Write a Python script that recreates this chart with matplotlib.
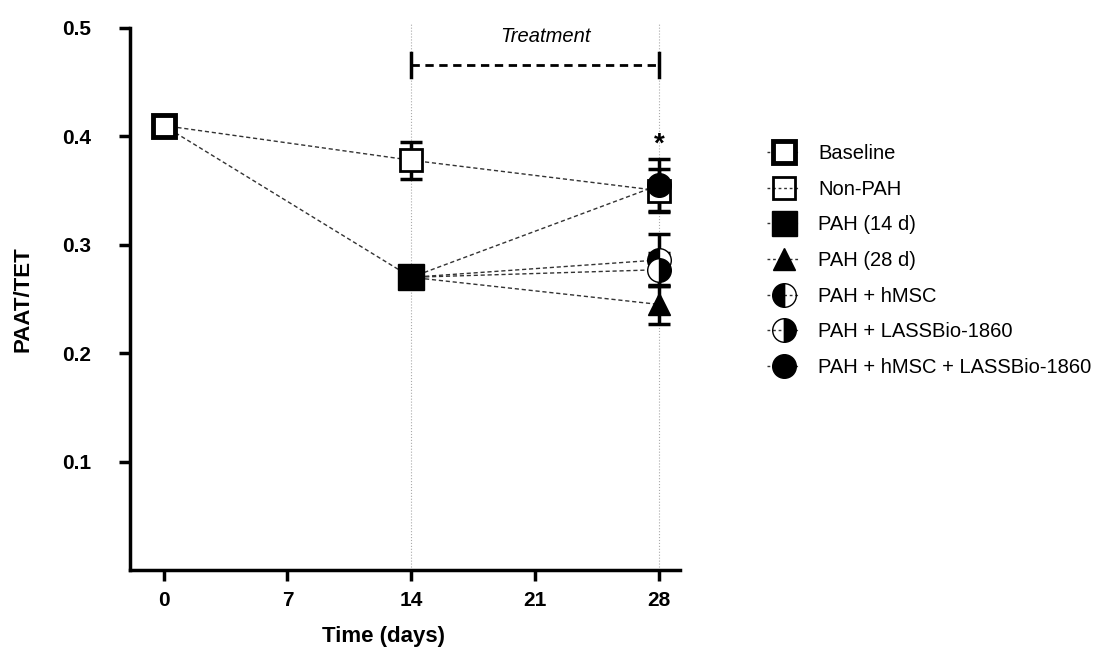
import matplotlib.pyplot as plt
from matplotlib.lines import Line2D

plt.rcParams['font.family'] = ['Liberation Sans', 'DejaVu Sans']

# data (day, mean, sem)
baseline_day, baseline_val = 0, 0.410
nonpah_days = [14, 28]
nonpah_vals = [0.378, 0.350]
nonpah_err = [0.017, 0.020]
pah14_day, pah14_val = 14, 0.270
day28 = 28
pah28_val, pah28_err = 0.245, 0.018
hmsc_val, hmsc_err = 0.286, 0.024
lass_val, lass_err = 0.277, 0.015
combo_val, combo_err = 0.355, 0.024

labels = ['Baseline', 'Non-PAH', 'PAH (14 d)', 'PAH (28 d)', 'PAH + hMSC',
          'PAH + LASSBio-1860', 'PAH + hMSC + LASSBio-1860']
xticks = [0, 7, 14, 21, 28]
yticks = [0.1, 0.2, 0.3, 0.4, 0.5]

fig = plt.figure(figsize=(10.99, 6.48), dpi=100)
ax = fig.add_axes([0.1183, 0.1204, 0.5005, 0.8364])

lc = '#333333'
ls = (0, (3, 2))
# connecting lines
ax.plot([baseline_day, nonpah_days[0]], [baseline_val, nonpah_vals[0]], ls=ls, color=lc, lw=1)
ax.plot([baseline_day, pah14_day], [baseline_val, pah14_val], ls=ls, color=lc, lw=1)
ax.plot(nonpah_days, nonpah_vals, ls=ls, color=lc, lw=1)
for v in [pah28_val, hmsc_val, lass_val, combo_val]:
    ax.plot([pah14_day, day28], [pah14_val, v], ls=ls, color=lc, lw=1)

# vertical dotted guides
for d in [14, 28]:
    ax.plot([d, d], [0, 0.505], ls=':', color='#aaaaaa', lw=0.8, clip_on=False, zorder=0)

eb = dict(fmt='none', ecolor='black', elinewidth=2.5, capsize=8, capthick=2.5, zorder=3)
ax.errorbar(nonpah_days, nonpah_vals, yerr=nonpah_err, **eb)
ax.errorbar([day28] * 4, [pah28_val, hmsc_val, lass_val, combo_val],
            yerr=[pah28_err, hmsc_err, lass_err, combo_err], **eb)

# markers
ax.plot(baseline_day, baseline_val, 's', ms=16, mfc='white', mec='black', mew=3.5, zorder=5)
ax.plot(nonpah_days, nonpah_vals, 's', ms=16, mfc='white', mec='black', mew=2, zorder=4)
ax.plot(pah14_day, pah14_val, 's', ms=19, mfc='black', mec='black', zorder=5)
ax.plot(day28, pah28_val, '^', ms=16, mfc='black', mec='black', zorder=5)
ax.plot(day28, hmsc_val, 'o', ms=17, fillstyle='left', mfc='black', mfcalt='white',
        mec='black', mew=1, zorder=5)
ax.plot(day28, lass_val, 'o', ms=17, fillstyle='right', mfc='black', mfcalt='white',
        mec='black', mew=1, zorder=6)
ax.plot(day28, combo_val, 'o', ms=17, mfc='black', mec='black', zorder=6)

# treatment bracket
ax.plot([14, 28], [0.466, 0.466], ls=(0, (3, 2)), color='black', lw=2, clip_on=False)
for d in [14, 28]:
    ax.plot([d, d], [0.455, 0.477], color='black', lw=2.5, clip_on=False)
ax.text(21.6, 0.492, 'Treatment', style='italic', fontsize=14.5, ha='center', va='center')
ax.text(28, 0.392, '*', fontsize=20, fontweight='bold', ha='center', va='center')

ax.set_xlim(-1.9, 29.2)
ax.set_ylim(0, 0.5)
ax.set_xticks(xticks)
ax.set_yticks(yticks)
ax.set_yticklabels([f'{t:.1f}' for t in yticks])
for s in ['top', 'right']:
    ax.spines[s].set_visible(False)
for s in ['left', 'bottom']:
    ax.spines[s].set_linewidth(2.5)
ax.tick_params(width=2.5, length=8, labelsize=15)
ax.tick_params(axis='y', pad=20)
ax.tick_params(axis='x', pad=7)
for t in ax.get_xticklabels() + ax.get_yticklabels():
    t.set_fontweight('bold')
ax.set_xlabel('Time (days)', fontsize=16, fontweight='bold')
ax.set_ylabel('PAAT/TET', fontsize=16, fontweight='bold')
ax.xaxis.set_label_coords(0.46, -0.103)
ax.yaxis.set_label_coords(-0.176, 0.5)

lkw = dict(color=lc, ls=(0, (2, 2)), lw=1, mec='black')
handles = [
    Line2D([], [], marker='s', ms=16, mfc='white', mew=3.5, **lkw),
    Line2D([], [], marker='s', ms=16, mfc='none', mew=2, **lkw),
    Line2D([], [], marker='s', ms=18, mfc='black', **lkw),
    Line2D([], [], marker='^', ms=16, mfc='black', **lkw),
    Line2D([], [], marker='o', ms=17, fillstyle='left', mfc='black', mfcalt='none', mew=1, **lkw),
    Line2D([], [], marker='o', ms=17, fillstyle='right', mfc='black', mfcalt='none', mew=1, **lkw),
    Line2D([], [], marker='o', ms=17, mfc='black', **lkw),
]
fig.legend(handles, labels, loc='upper left', bbox_to_anchor=(0.6815, 0.806), frameon=False,
           fontsize=14.5, labelspacing=0.83, handlelength=1.65, handletextpad=0.9)

fig.savefig('out.png', dpi=100)
